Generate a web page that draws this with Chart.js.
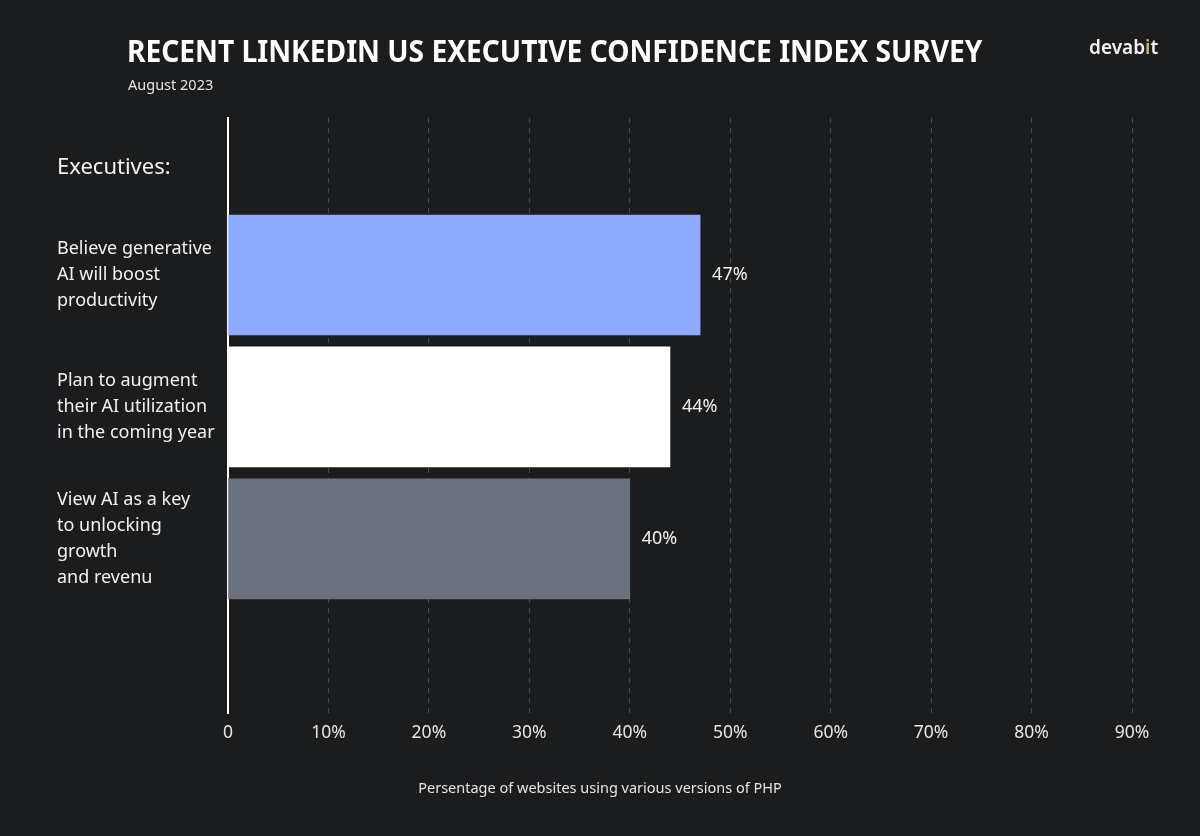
<!DOCTYPE html>
<html>
<head>
<meta charset="utf-8">
<script src="https://cdn.jsdelivr.net/npm/chart.js@4/dist/chart.umd.min.js"></script>
<style>
	html, body { margin: 0; padding: 0; background: #1b1c1e; }
	#wrap { position: relative; width: 1200px; height: 836px; font-family: "Noto Sans", sans-serif; color: #fff; }
	#chart { position: absolute; left: 0; top: 0; }
	.txt { position: absolute; white-space: nowrap; }
	#title { left: 127px; top: 29px; font-size: 31px; font-weight: 700; transform: scaleX(0.908); transform-origin: 0 0; }
	#sub { left: 128px; top: 74px; font-size: 14.5px; color: #e6e6e6; }
	#logo { left: 1089px; top: 34px; font-size: 19px; font-weight: 600; color: #f2f2f2; }
	#logo .i { color: #d9b36c; }
	#exec { left: 57px; top: 150px; font-size: 22px; color: #f2f2f2; }
	#foot { left: 0; width: 1200px; text-align: center; top: 777px; font-size: 14.5px; color: #e6e6e6; }
</style>
</head>
<body>
<div id="wrap">
	<canvas id="chart" width="1200" height="836"></canvas>
	<div class="txt" id="title">RECENT LINKEDIN US EXECUTIVE CONFIDENCE INDEX SURVEY</div>
	<div class="txt" id="sub">August 2023</div>
	<div class="txt" id="logo">devab<span class="i">i</span>t</div>
	<div class="txt" id="exec">Executives:</div>
	<div class="txt" id="foot">Persentage of websites using various versions of PHP</div>
</div>
<script>
(function () {
	var categories = [
		['Believe generative', 'AI will boost', 'productivity'],
		['Plan to augment', 'their AI utilization', 'in the coming year'],
		['View AI as a key', 'to unlocking', 'growth', 'and revenu']
	];
	var values = [47, 44, 40];
	var barColors = ['#8eaaff', '#ffffff', '#6b727d'];
	var xTicks = [0, 10, 20, 30, 40, 50, 60, 70, 80, 90];

	// value labels at the end of each bar
	var valueLabels = {
		id: 'valueLabels',
		afterDatasetsDraw: function (chart) {
			var ctx = chart.ctx;
			var meta = chart.getDatasetMeta(0);
			ctx.save();
			ctx.font = '18px "Noto Sans"';
			ctx.fillStyle = '#f2f2f2';
			ctx.textBaseline = 'middle';
			meta.data.forEach(function (bar, i) {
				ctx.fillText(values[i] + '%', bar.x + 12, bar.y);
			});
			ctx.restore();
		}
	};

	var ctx = document.getElementById('chart').getContext('2d');
	var chart = new Chart(ctx, {
		type: 'bar',
		data: {
			datasets: [{
				data: values.map(function (v, i) { return { x: v, y: i + 1 }; }),
				backgroundColor: barColors,
				borderWidth: 0,
				barThickness: 120
			}]
		},
		options: {
			indexAxis: 'y',
			responsive: false,
			animation: false,
			layout: { padding: { top: 118, left: 57, right: 68, bottom: 83 } },
			plugins: { legend: { display: false }, tooltip: { enabled: false } },
			scales: {
				x: {
					type: 'linear',
					min: 0,
					max: 90,
					afterBuildTicks: function (scale) {
						scale.ticks = xTicks.map(function (v) { return { value: v }; });
					},
					afterFit: function (scale) { scale.height = 40; },
					border: { display: false, dash: [5, 5] },
					grid: {
						color: '#4a4b4e',
						lineWidth: 1,
						drawTicks: false
					},
					ticks: {
						padding: 10,
						color: '#e6e6e6',
						font: { family: 'Noto Sans', size: 17.5 },
						callback: function (v) { return v === 0 ? '0' : v + '%'; }
					}
				},
				y: {
					type: 'linear',
					reverse: true,
					offset: false,
					min: -0.19,
					max: 4.32,
					afterBuildTicks: function (scale) {
						scale.ticks = categories.map(function (c, i) { return { value: i + 1 }; });
					},
					afterFit: function (scale) { scale.width = 171; },
					border: { display: true, color: '#ffffff', width: 2 },
					grid: { display: false, offset: false },
					ticks: {
						crossAlign: 'far',
						color: '#f2f2f2',
						font: { family: 'Noto Sans', size: 18, lineHeight: 1.45 },
						callback: function (v) { return categories[v - 1]; }
					}
				}
			}
		},
		plugins: [valueLabels]
	});
})();
</script>
</body>
</html>
